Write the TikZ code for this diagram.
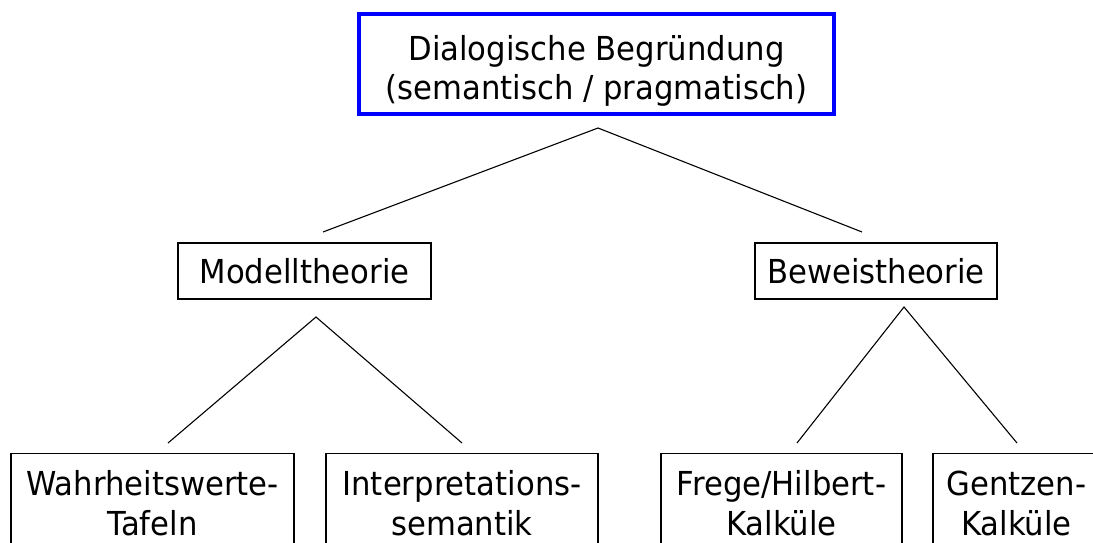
\documentclass[tikz,border=0pt]{standalone}
\usepackage{fontspec}
\setmainfont{DejaVu Sans}[FakeStretch=0.93]
\usetikzlibrary{positioning}

\begin{document}
\begin{tikzpicture}[x=1pt, y=-1pt,
    box/.style={draw, line width=1.2pt, align=center, inner sep=0pt, font=\fontsize{33}{40}\selectfont},
    leaf/.style={box, anchor=north, inner ysep=17pt},
    link/.style={line width=1.1pt}]
      \useasboundingbox (0,0) rectangle (1093,543);
      \clip (0,0) rectangle (1093,543);

      \node[box, draw=blue, line width=3.5pt, minimum width=475, minimum height=100, font=\fontsize{33}{39}\selectfont] (dialog) at (596.5,64) {\rule{0pt}{38pt}Dialogische Begründung\\(semantisch / pragmatisch)};

      \node[box, minimum width=253, minimum height=56] (modell) at (304.5,271) {Modelltheorie};
      \node[box, minimum width=242, minimum height=56] (beweis) at (876,271) {Beweistheorie};

      \node[leaf, minimum width=283] (wahr) at (152.5,453) {Wahrheitswerte-\\Tafeln};
      \node[leaf, minimum width=272] (interp) at (462,453) {Interpretations-\\semantik};
      \node[leaf, minimum width=241] (frege) at (781.5,453) {Frege/Hilbert-\\Kalküle};
      \node[leaf, minimum width=167] (gentzen) at (1016.5,453) {Gentzen-\\Kalküle};

      \coordinate (dialog-tip) at (598,128);
      \coordinate (modell-in) at (323,232);
      \coordinate (beweis-in) at (862,232);
      \coordinate (modell-tip) at (316,317);
      \coordinate (wahr-in) at (168,443);
      \coordinate (interp-in) at (462,443);
      \coordinate (beweis-tip) at (904,307);
      \coordinate (frege-in) at (797,443);
      \coordinate (gentzen-in) at (1017,443);

      \draw[link] (modell-in) -- (dialog-tip) -- (beweis-in);
      \draw[link] (wahr-in) -- (modell-tip) -- (interp-in);
      \draw[link] (frege-in) -- (beweis-tip) -- (gentzen-in);

    \end{tikzpicture}
\end{document}
